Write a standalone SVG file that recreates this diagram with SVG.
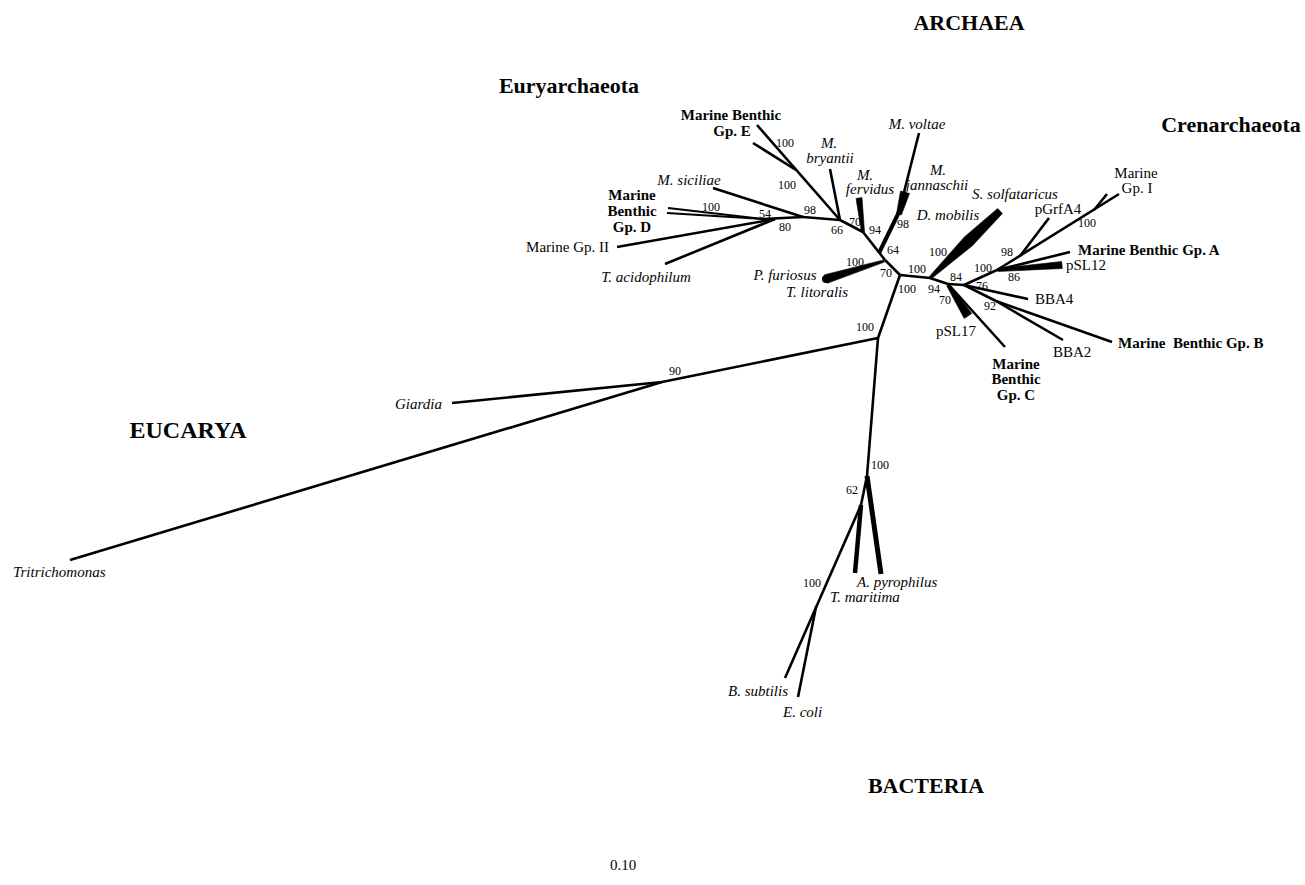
<svg xmlns="http://www.w3.org/2000/svg" width="1305" height="885" viewBox="0 0 1305 885">
<style>
text{font-family:"Liberation Serif","Times New Roman",serif;fill:#000}
.t{font-size:15px}
.i{font-size:15px;font-style:italic}
.b{font-size:15px;font-weight:bold}
.h{font-size:22px;font-weight:bold}
.n{font-size:12px;text-anchor:middle}
.m{text-anchor:middle}
.e{text-anchor:end}
.lbl{opacity:0.98}
.br line{stroke:#000;stroke-width:2.6;fill:none}
.br polygon{fill:#000;stroke:#000;stroke-width:0.6;stroke-linejoin:round}
</style>
<rect width="1305" height="885" fill="#fff"/>
<g id="connectors" class="br">
<line x1="900" y1="275" x2="885" y2="260"/>
<line x1="900" y1="275" x2="930" y2="278"/>
<line x1="900" y1="275" x2="878" y2="338"/>
<line x1="878" y1="338" x2="662" y2="382"/>
<line x1="662" y1="382" x2="452" y2="403"/>
<line x1="662" y1="382" x2="70" y2="560"/>
<line x1="878" y1="338" x2="867" y2="476"/>
<line x1="867" y1="476" x2="881" y2="574" style="stroke-width:5"/>
<line x1="867" y1="476" x2="861" y2="505"/>
<line x1="861" y1="505" x2="855" y2="573" style="stroke-width:4.5"/>
<line x1="861" y1="505" x2="785" y2="678"/>
<line x1="816" y1="607" x2="798" y2="697"/>
<line x1="885" y1="260" x2="863" y2="232"/>
<line x1="863" y1="232" x2="840" y2="220"/>
<line x1="840" y1="220" x2="830" y2="169"/>
<line x1="840" y1="220" x2="757" y2="125"/>
<line x1="796" y1="170" x2="753" y2="143"/>
<line x1="840" y1="220" x2="803" y2="217"/>
<line x1="803" y1="217" x2="713" y2="188"/>
<line x1="803" y1="217" x2="763" y2="219"/>
<line x1="763" y1="219" x2="668" y2="208" style="stroke-width:2"/>
<line x1="763" y1="219" x2="667" y2="213" style="stroke-width:2"/>
<line x1="775" y1="219" x2="617" y2="247"/>
<line x1="775" y1="219" x2="665" y2="264"/>
<line x1="879" y1="253" x2="899" y2="212" style="stroke-width:4"/>
<polygon points="901.4,215 909.5,193.5 900.5,191 896.6,213.5"/>
<line x1="900" y1="208" x2="919" y2="133"/>
<polygon points="864.5,231.8 862,197.6 856,198.4 861.5,232.2"/>
<polygon points="883.6,259.9 824.7,274.7 827.3,283.3 884.4,262.1"/>
<circle cx="826" cy="279" r="4"/>
<polygon points="931,279.1 972.6,245.5 1002.4,213.5 997.6,208.5 964.4,236.9 929,276.9"/>
<line x1="930" y1="278" x2="948" y2="284"/>
<line x1="948" y1="284" x2="964" y2="285"/>
<polygon points="946.7,285.8 964.2,318.4 971.8,313.6 949.3,284.2"/>
<line x1="949" y1="285" x2="1005" y2="347"/>
<line x1="964" y1="285" x2="1028" y2="299"/>
<line x1="964" y1="285" x2="996" y2="301"/>
<line x1="996" y1="301" x2="1063" y2="340"/>
<line x1="996" y1="301" x2="1112" y2="342"/>
<line x1="964" y1="285" x2="997" y2="270"/>
<line x1="997" y1="270" x2="1119" y2="194"/>
<line x1="1094" y1="210" x2="1107" y2="194"/>
<line x1="1020" y1="256" x2="1049" y2="218"/>
<line x1="997" y1="270" x2="1070" y2="252"/>
<polygon points="998.1,271.5 1062.3,268.5 1061.7,261.5 997.9,268.5"/>
</g>
<g id="support-values" class="lbl">
<text class="n" x="785" y="147">100</text>
<text class="n" x="787" y="189">100</text>
<text class="n" x="810" y="214">98</text>
<text class="n" x="765" y="218">54</text>
<text class="n" x="785" y="231">80</text>
<text class="n" x="711" y="211">100</text>
<text class="n" x="837" y="234">66</text>
<text class="n" x="855" y="226">70</text>
<text class="n" x="875" y="234">94</text>
<text class="n" x="893" y="254">64</text>
<text class="n" x="903" y="228">98</text>
<text class="n" x="855" y="266">100</text>
<text class="n" x="886" y="277">70</text>
<text class="n" x="917" y="273">100</text>
<text class="n" x="907" y="293">100</text>
<text class="n" x="938" y="256">100</text>
<text class="n" x="934" y="293">94</text>
<text class="n" x="945" y="304">70</text>
<text class="n" x="956" y="281">84</text>
<text class="n" x="982" y="290">76</text>
<text class="n" x="990" y="310">92</text>
<text class="n" x="983" y="272">100</text>
<text class="n" x="1014" y="281">86</text>
<text class="n" x="1007" y="256">98</text>
<text class="n" x="1087" y="227">100</text>
<text class="n" x="865" y="331">100</text>
<text class="n" x="675" y="375">90</text>
<text class="n" x="880" y="469">100</text>
<text class="n" x="852" y="494">62</text>
<text class="n" x="812" y="587">100</text>
</g>
<g id="domain-labels" class="lbl">
<text class="h m" x="969" y="30">ARCHAEA</text>
<text class="h m" x="569" y="93">Euryarchaeota</text>
<text class="h m" x="1231" y="132">Crenarchaeota</text>
<text class="h m" x="188" y="438" style="font-size:24px">EUCARYA</text>
<text class="h m" x="926" y="793">BACTERIA</text>
</g>
<g id="scale" class="lbl"><text class="t m" x="623" y="870">0.10</text></g>
<g id="leaf-gpE" class="lbl"><text class="b m" x="731" y="120">Marine Benthic</text><text class="b m" x="732" y="136">Gp. E</text></g>
<g id="leaf-gpD" class="lbl"><text class="b m" x="632" y="200">Marine</text><text class="b m" x="632" y="216">Benthic</text><text class="b m" x="632" y="232">Gp. D</text></g>
<g id="leaf-msiciliae" class="lbl"><text class="i m" x="689" y="185">M. siciliae</text></g>
<g id="leaf-marineGpII" class="lbl"><text class="t e" x="609" y="252">Marine Gp. II</text></g>
<g id="leaf-tacidophilum" class="lbl"><text class="i m" x="646" y="282">T. acidophilum</text></g>
<g id="leaf-mbryantii" class="lbl"><text class="i m" x="829" y="148">M.</text><text class="i m" x="830" y="163">bryantii</text></g>
<g id="leaf-mfervidus" class="lbl"><text class="i m" x="865" y="180">M.</text><text class="i m" x="870" y="194">fervidus</text></g>
<g id="leaf-mvoltae" class="lbl"><text class="i m" x="917" y="129">M. voltae</text></g>
<g id="leaf-mjannaschii" class="lbl"><text class="i m" x="938" y="175">M.</text><text class="i m" x="937" y="190">jannaschii</text></g>
<g id="leaf-pfuriosus" class="lbl"><text class="i m" x="785" y="280">P. furiosus</text></g>
<g id="leaf-tlitoralis" class="lbl"><text class="i m" x="817" y="297">T. litoralis</text></g>
<g id="leaf-ssolfataricus" class="lbl"><text class="i m" x="1015" y="199">S. solfataricus</text></g>
<g id="leaf-dmobilis" class="lbl"><text class="i m" x="948" y="220">D. mobilis</text></g>
<g id="leaf-marineGpI" class="lbl"><text class="t m" x="1136" y="178">Marine</text><text class="t m" x="1137" y="193">Gp. I</text></g>
<g id="leaf-pGrfA4" class="lbl"><text class="t m" x="1058" y="214">pGrfA4</text></g>
<g id="leaf-gpA" class="lbl"><text class="b" x="1078" y="255">Marine Benthic Gp. A</text></g>
<g id="leaf-pSL12" class="lbl"><text class="t" x="1066" y="270">pSL12</text></g>
<g id="leaf-BBA4" class="lbl"><text class="t" x="1035" y="304">BBA4</text></g>
<g id="leaf-BBA2" class="lbl"><text class="t" x="1053" y="357">BBA2</text></g>
<g id="leaf-gpB" class="lbl"><text class="b" x="1118" y="348" xml:space="preserve">Marine  Benthic Gp. B</text></g>
<g id="leaf-pSL17" class="lbl"><text class="t m" x="956" y="336">pSL17</text></g>
<g id="leaf-gpC" class="lbl"><text class="b m" x="1016" y="369">Marine</text><text class="b m" x="1016" y="384">Benthic</text><text class="b m" x="1016" y="400">Gp. C</text></g>
<g id="leaf-giardia" class="lbl"><text class="i" x="395" y="409">Giardia</text></g>
<g id="leaf-tritrichomonas" class="lbl"><text class="i" x="13" y="577">Tritrichomonas</text></g>
<g id="leaf-apyrophilus" class="lbl"><text class="i" x="857" y="587">A. pyrophilus</text></g>
<g id="leaf-tmaritima" class="lbl"><text class="i" x="830" y="602">T. maritima</text></g>
<g id="leaf-bsubtilis" class="lbl"><text class="i" x="728" y="696">B. subtilis</text></g>
<g id="leaf-ecoli" class="lbl"><text class="i" x="783" y="717">E. coli</text></g>
</svg>
